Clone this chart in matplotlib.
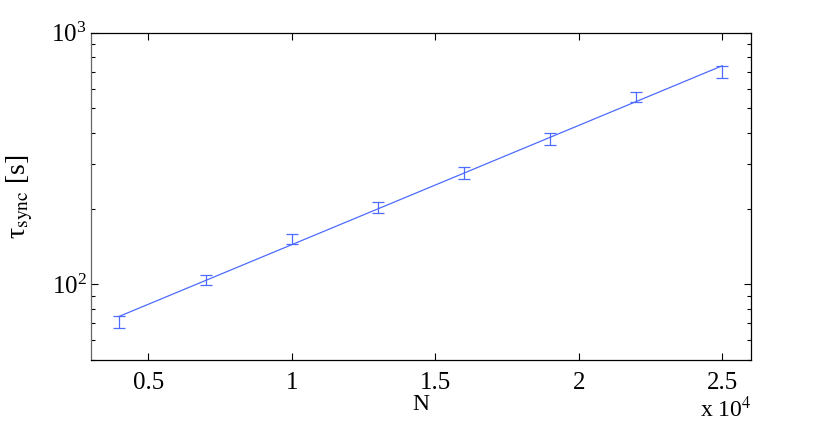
import numpy as np
import matplotlib
matplotlib.use("Agg")
import matplotlib.pyplot as plt
from matplotlib.ticker import LogLocator, NullFormatter

# measured sync times vs system size
N = [4000, 7000, 10000, 13000, 16000, 19000, 22000, 25000]
tau = [70.7, 104, 151.5, 201.5, 278, 379, 556, 700]
tau_err = [3.8, 5, 6.5, 10, 15, 20, 25, 40]

# exponential fit drawn between its end points
fit_N = [4000, 25000]
fit_tau = [74.6, 739]

plt.rcParams['font.family'] = ['Liberation Serif', 'DejaVu Serif']
plt.rcParams['mathtext.fontset'] = 'stix'
plt.rcParams['font.size'] = 17

blue = '#4d6bfe'

fig = plt.figure(figsize=(8.3, 4.38), dpi=100)
ax = fig.add_axes([0.1093, 0.1781, 0.7955, 0.7472])

ax.plot(fit_N, fit_tau, '-', color=blue, lw=0.9)
ax.errorbar(N, tau, yerr=tau_err, fmt='none', ecolor=blue, elinewidth=0.9,
            capsize=4.3, capthick=0.9)

ax.set_yscale('log')
ax.set_xlim(3000, 26000)
ax.set_ylim(50, 1000)

xt = [5000, 10000, 15000, 20000, 25000]
ax.set_xticks(xt)
ax.set_xticklabels(['0.5', '1', '1.5', '2', '2.5'])
ax.yaxis.set_major_locator(LogLocator(base=10, numticks=10))
ax.yaxis.set_minor_locator(LogLocator(base=10, subs=np.arange(2, 10), numticks=10))
ax.yaxis.set_minor_formatter(NullFormatter())

ax.tick_params(which='both', direction='in', top=True, right=True)
ax.tick_params(which='major', length=5, width=0.8)
ax.tick_params(which='minor', length=3, width=0.8)
ax.tick_params(axis='x', labelsize=18, pad=9)
ax.tick_params(axis='y', labelsize=18, pad=3)
for s in ax.spines.values():
    s.set_linewidth(0.9)
ax.spines['left'].set_color('#666666')

ax.set_xlabel('N', fontsize=17, labelpad=0)
ax.set_ylabel('τ$_{\\mathrm{sync}}$ [s]', fontsize=20)
ax.yaxis.set_label_coords(-0.085, 0.5)

fig.text(0.905, 0.035, r'x 10$^{4}$', ha='right', va='bottom', fontsize=17)

fig.savefig('out.png', dpi=100)
